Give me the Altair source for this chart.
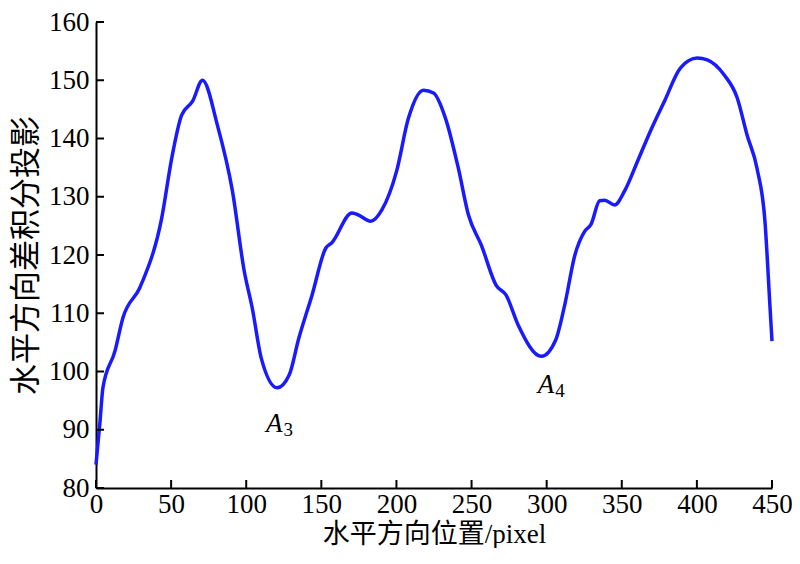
import altair as alt
import pandas as pd

# curve samples
pos_x = [0, 2.7, 4.6, 12.6, 17.9, 29, 31, 43.7, 50.4, 57, 64.3, 70.9, 80.8, 90.8, 98.7,
         104, 110, 120.6, 128.6, 135, 143.8, 153, 157, 170.3, 173.6, 182.9, 190.2, 200.1,
         208, 218, 224.7, 232.6, 241.2, 247.9, 256.5, 266.4, 273, 281, 296.5, 306, 312,
         318.8, 325.4, 329.4, 335.3, 338.6, 345.3, 351.9, 360.5, 369.1, 378.4, 389, 400.3,
         406.9, 418.2, 426.8, 433.4, 440, 445.3, 448.6, 450]
proj = [84, 91.5, 97.2, 103.5, 109.2, 114.3, 115.5, 126.3, 136.6, 144.0, 146.4, 150.0, 142.3,
        131.0, 117.2, 110.9, 102.3, 97.2, 99.4, 105.7, 113.1, 121.2, 122.1, 127.2, 127.0,
        125.8, 127.7, 134.4, 143.5, 148.3, 147.8, 143.5, 134.9, 126.9, 121.7, 114.8, 113.1,
        108.0, 102.6, 105.4, 111.4, 120.0, 124.1, 125.2, 129.3, 129.4, 128.6, 131.0, 136.1,
        141.3, 146.4, 152.1, 153.8, 153.5, 150.9, 147.0, 140.6, 134.9, 125.8, 111.4, 105.2]

x_ticks = [0, 50, 100, 150, 200, 250, 300, 350, 400, 450]
y_ticks = [80, 90, 100, 110, 120, 130, 140, 150, 160]

ann_main = ["A", "A"]
ann_sub = ["3", "4"]
ann_x = [118.6, 299.5]
ann_y = [89.6, 96.3]

W, H = 676, 466
FONT = "Liberation Serif, Noto Sans CJK SC"

df = pd.DataFrame({"x": pos_x, "y": proj})
df_xt = pd.DataFrame({"x": x_ticks})
df_yt = pd.DataFrame({"y": y_ticks})
df_ann = pd.DataFrame({"x": ann_x, "y": ann_y, "m": ann_main, "s": ann_sub})

xs = alt.Scale(domain=[0, 450], nice=False, zero=False)
ys = alt.Scale(domain=[80, 160], nice=False, zero=False)

line = alt.Chart(df).mark_line(color="#1a1aff", strokeWidth=3.5, interpolate="monotone").encode(
    x=alt.X("x:Q", scale=xs,
            axis=alt.Axis(title="水平方向位置/pixel", values=x_ticks, ticks=False, grid=False,
                          labelPadding=3, titlePadding=4, labelFlush=False)),
    y=alt.Y("y:Q", scale=ys,
            axis=alt.Axis(title="水平方向差积分投影", values=y_ticks, ticks=False, grid=False,
                          labelPadding=7, titlePadding=6, labelFlush=False)),
)

xtick = alt.Chart(df_xt).mark_rule(color="black", strokeWidth=2).encode(
    x=alt.X("x:Q", scale=xs), y=alt.value(H), y2=alt.value(H - 8))
ytick = alt.Chart(df_yt).mark_rule(color="black", strokeWidth=2).encode(
    y=alt.Y("y:Q", scale=ys), x=alt.value(0), x2=alt.value(8))

ann_a = alt.Chart(df_ann).mark_text(font="Liberation Serif", fontSize=27, fontStyle="italic",
                                    align="center", baseline="alphabetic", color="black").encode(
    x=alt.X("x:Q", scale=xs), y=alt.Y("y:Q", scale=ys), text="m:N")
ann_s = alt.Chart(df_ann).mark_text(font="Liberation Serif", fontSize=19, dx=14, dy=4,
                                    align="center", baseline="alphabetic", color="black").encode(
    x=alt.X("x:Q", scale=xs), y=alt.Y("y:Q", scale=ys), text="s:N")

chart = alt.layer(line, xtick, ytick, ann_a, ann_s).properties(
    width=W, height=H,
    autosize=alt.AutoSizeParams(type="none"),
    padding={"left": 88, "top": 14, "right": 20, "bottom": 60},
).configure_view(stroke=None).configure_axis(
    domainColor="black", domainWidth=2,
    labelFont="Liberation Serif", labelFontSize=27, labelColor="black",
    titleFont=FONT, titleFontSize=27, titleFontWeight="normal", titleColor="black",
).configure_axisY(titleFontSize=31, labelPadding=7)

chart.save("out.html", embed_options={"renderer": "svg", "actions": False})
